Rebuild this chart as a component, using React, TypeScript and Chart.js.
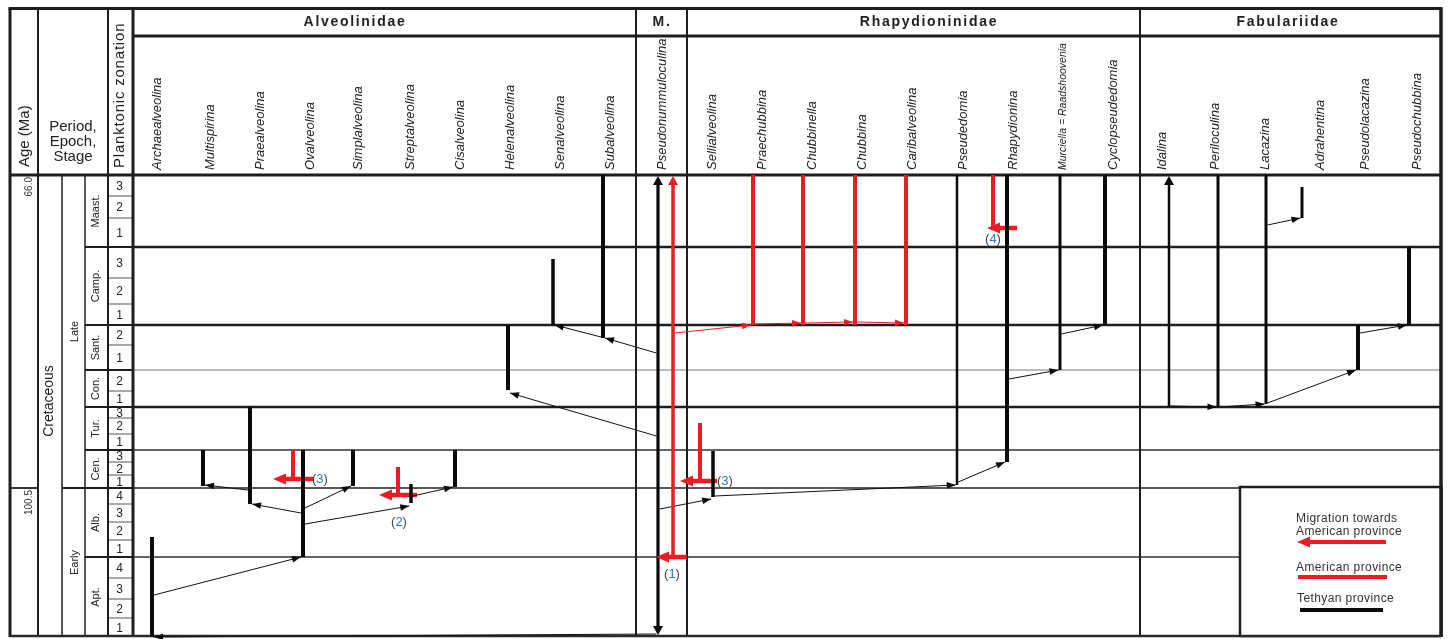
import React, { useEffect, useRef } from 'react';
import { Chart, registerables } from 'chart.js';

Chart.register(...registerables);

// ================= DATA =================
const familyNames = ['Alveolinidae', 'M.', 'Rhapydioninidae', 'Fabulariidae'];

const genusNames = [
  'Archaealveolina', 'Multispirina', 'Praealveolina', 'Ovalveolina', 'Simplalveolina',
  'Streptalveolina', 'Cisalveolina', 'Helenalveolina', 'Senalveolina', 'Subalveolina',
  'Pseudonummuloculina',
  'Sellialveolina', 'Praechubbina', 'Chubbinella', 'Chubbina', 'Caribalveolina',
  'Pseudedomia', 'Rhapydionina', 'Murciella = Raadshoovenia', 'Cyclopseudedomia',
  'Idalina', 'Periloculina', 'Lacazina', 'Adrahentina', 'Pseudolacazina', 'Pseudochubbina',
];

// vertical time axis: position units from the top of the Maastrichtian (66.0 Ma) downwards
const stageNames = ['Maast.', 'Camp.', 'Sant.', 'Con.', 'Tur.', 'Cen.', 'Alb.', 'Apt.'];
const stageTops = [0, 72, 150, 195, 232, 275, 313, 382];
const columnBase = 462;
const subzoneNames = [
  ['3', '2', '1'], ['3', '2', '1'], ['2', '1'], ['2', '1'],
  ['3', '2', '1'], ['3', '2', '1'], ['4', '3', '2', '1'], ['4', '3', '2', '1'],
];
const subzoneTops = [
  [0, 21, 43], [72, 103, 129], [150, 170], [195, 216],
  [232, 243, 259], [275, 287, 300], [313, 329, 347, 365], [382, 403, 424, 443],
];
const epochNames = ['Late', 'Early'];
const epochTops = [0, 313];
const periodNames = ['Cretaceous'];
const periodTops = [0];
const ageLabels = ['66.0', '100.5'];
const ageLevels = [0, 313];

// stratigraphic ranges (T = Tethyan, A = American)
const rangeGenus = [
  'Archaealveolina', 'Multispirina', 'Praealveolina', 'Ovalveolina', 'Simplalveolina',
  'Streptalveolina', 'Cisalveolina', 'Helenalveolina', 'Senalveolina', 'Subalveolina',
  'Pseudonummuloculina', 'Pseudonummuloculina',
  'Sellialveolina', 'Praechubbina', 'Chubbinella', 'Chubbina', 'Caribalveolina',
  'Pseudedomia', 'Rhapydionina', 'Murciella = Raadshoovenia', 'Cyclopseudedomia',
  'Idalina', 'Periloculina', 'Lacazina', 'Adrahentina', 'Pseudolacazina', 'Pseudochubbina',
];
const rangeProvince = [
  'T', 'T', 'T', 'T', 'T', 'T', 'T', 'T', 'T', 'T',
  'T', 'A',
  'T', 'A', 'A', 'A', 'A', 'T', 'T', 'T', 'T',
  'T', 'T', 'T', 'T', 'T', 'T',
];
const rangeTop = [
  362, 275, 232, 275, 275, 309, 275, 150, 84, 0,
  0, 0,
  276, 0, 0, 0, 0, 0, 0, 0, 0,
  0, 0, 0, 12, 150, 72,
];
const rangeBase = [
  462, 311, 329, 382, 311, 328, 312, 215, 150, 163,
  462, 382,
  322, 150, 150, 150, 150, 310, 287, 195, 150,
  232, 232, 229, 43, 195, 150,
];
const rangeArrowTop = [
  false, false, false, false, false, false, false, false, false, false,
  true, true,
  false, false, false, false, false, false, false, false, false,
  true, false, false, false, false, false,
];
const rangeArrowBase = [
  false, false, false, false, false, false, false, false, false, false,
  true, false,
  false, false, false, false, false, false, false, false, false,
  false, false, false, false, false, false,
];

// phylogenetic links (ancestor -> descendant)
const linkFrom = [
  'Archaealveolina', 'Ovalveolina', 'Praealveolina', 'Ovalveolina', 'Ovalveolina',
  'Streptalveolina', 'Pseudonummuloculina', 'Pseudonummuloculina', 'Subalveolina',
  'Pseudonummuloculina', 'Sellialveolina', 'Pseudedomia', 'Rhapydionina',
  'Murciella = Raadshoovenia', 'Idalina', 'Periloculina', 'Lacazina', 'Lacazina',
  'Pseudolacazina', 'Pseudonummuloculina',
  'Pseudonummuloculina', 'Praechubbina', 'Chubbinella', 'Chubbina',
];
const linkFromLevel = [
  420, 338, 315, 333, 349, 321, 261, 178, 162, 334, 321, 307, 204, 159,
  231, 232, 228, 50, 158, 459,
  158, 149, 148, 147,
];
const linkTo = [
  'Ovalveolina', 'Praealveolina', 'Multispirina', 'Simplalveolina', 'Streptalveolina',
  'Cisalveolina', 'Helenalveolina', 'Subalveolina', 'Senalveolina',
  'Sellialveolina', 'Pseudedomia', 'Rhapydionina', 'Murciella = Raadshoovenia',
  'Cyclopseudedomia', 'Periloculina', 'Lacazina', 'Pseudolacazina', 'Adrahentina',
  'Pseudochubbina', 'Archaealveolina',
  'Praechubbina', 'Chubbinella', 'Chubbina', 'Caribalveolina',
];
const linkToLevel = [
  382, 329, 310, 311, 331, 312, 218, 163, 150, 324, 310, 287, 195, 150,
  232, 229, 195, 43, 150, 462,
  150, 148, 147, 148,
];
const linkProvince = [
  'T', 'T', 'T', 'T', 'T', 'T', 'T', 'T', 'T', 'T', 'T', 'T', 'T', 'T',
  'T', 'T', 'T', 'T', 'T', 'T',
  'A', 'A', 'A', 'A',
];

// migrations towards the American province
const migrationLabels = ['1', '2', '3', '3', '4'];
const migrationTop = [382, 292, 275, 248, 0];
const migrationLevel = [382, 320, 304, 306, 53];

const legendLabels = ['Migration towards', 'American province', 'American province', 'Tethyan province'];

// ================= LAYOUT (positions / styles) =================
const X_MAX = 1431;
const leftColEdges = [0, 28, 52, 75, 98, 123];
const familyEdges = [123, 626, 677, 1130, 1431];
const familyLabelX = [345, 652, 919, 1278];
const genusLabelX = [
  147, 200, 250, 300, 348, 400, 450, 500, 550, 600,
  652,
  702, 752, 802, 852, 902, 953, 1003, 1053, 1103,
  1152, 1205, 1255, 1310, 1355, 1407,
];
const rangeLineX = [
  142, 193, 240, 293, 343, 401, 445, 498, 543, 593,
  648, 663,
  703, 743, 793, 845, 896, 947, 997, 1050, 1095,
  1159, 1208, 1256, 1292, 1348, 1399,
];
const rangeWidth = [
  4, 4, 4, 4, 4, 3.5, 4, 4, 3.5, 4,
  3.2, 3.5,
  3.5, 4, 4, 4, 4, 2.5, 4, 3, 4,
  2.5, 3, 3, 3, 4, 4,
];
const stageLineWidth = [0, 2.4, 2.4, 1.2, 2.4, 1.3, 1.6, 1.3];
const stageLineColor = ['#000', '#1e1e1e', '#1e1e1e', '#7a7a7a', '#1e1e1e', '#333', '#222', '#333'];
const migrationX = [663, 388, 283, 690, 983];
const migrationArrowFrom = [677, 407, 303, 707, 1007];
const migrationArrowTo = [646, 369, 263, 670, 977];
const migrationLabelX = [662, 389, 302, 707, 983];
const migrationLabelY = [399, 347, 304, 306, 64];
const migrationLabelAlign = ['center', 'center', 'left', 'left', 'center'];
const legendBox = [1230, 312, 1431, 462];

const HEADER_TOP = 8.5;
const FAMILY_ROW_BOTTOM = 36;
const FONT = '"Liberation Sans", Arial, Helvetica, sans-serif';
const RED = '#ec1c24';
const BLACK = '#0a0a0a';
const BLUE = '#2a7cc7';
const TEXT = '#222';

function findRange(genus: string, province: string): number {
  let idx = -1;
  for (let i = 0; i < rangeGenus.length; i++) {
    if (rangeGenus[i] === genus) {
      if (rangeProvince[i] === province) return i;
      if (idx < 0) idx = i;
    }
  }
  return idx;
}

function seg(ctx: any, x1: number, y1: number, x2: number, y2: number, w: number, color: string) {
  ctx.save();
  ctx.strokeStyle = color;
  ctx.lineWidth = w;
  ctx.lineCap = 'butt';
  ctx.beginPath();
  ctx.moveTo(x1, y1);
  ctx.lineTo(x2, y2);
  ctx.stroke();
  ctx.restore();
}

function arrowHead(ctx: any, x1: number, y1: number, x2: number, y2: number, len: number, half: number, color: string) {
  const a = Math.atan2(y2 - y1, x2 - x1);
  const c = Math.cos(a), s = Math.sin(a);
  ctx.save();
  ctx.fillStyle = color;
  ctx.beginPath();
  ctx.moveTo(x2, y2);
  ctx.lineTo(x2 - len * c + half * s, y2 - len * s - half * c);
  ctx.lineTo(x2 - len * c - half * s, y2 - len * s + half * c);
  ctx.closePath();
  ctx.fill();
  ctx.restore();
}

function text(ctx: any, s: string, x: number, y: number, font: string, color: string, align = 'center', spacing = '0px') {
  ctx.save();
  ctx.font = font;
  ctx.fillStyle = color;
  ctx.textAlign = align;
  ctx.textBaseline = 'middle';
  ctx.letterSpacing = spacing;
  ctx.fillText(s, x, y);
  ctx.restore();
}

function rtext(ctx: any, s: string, x: number, y: number, font: string, color: string, align = 'center', spacing = '0px') {
  ctx.save();
  ctx.translate(x, y);
  ctx.rotate(-Math.PI / 2);
  ctx.font = font;
  ctx.fillStyle = color;
  ctx.textAlign = align;
  ctx.textBaseline = 'middle';
  ctx.letterSpacing = spacing;
  ctx.fillText(s, 0, 0);
  ctx.restore();
}

function linkGeometry(i: number) {
  const fi = findRange(linkFrom[i], linkProvince[i]);
  const ti = findRange(linkTo[i], linkProvince[i]);
  const fx = rangeLineX[fi];
  const tx = rangeLineX[ti];
  const dir = tx >= fx ? 1 : -1;
  return {
    x1: fx + dir * rangeWidth[fi] / 2,
    y1: linkFromLevel[i],
    x2: tx - dir * rangeWidth[ti] / 2,
    y2: linkToLevel[i],
  };
}

const tablePlugin = {
  id: 'rangeTable',
  beforeDraw(chart: any) {
    const ctx = chart.ctx;
    ctx.save();
    ctx.fillStyle = '#fff';
    ctx.fillRect(0, 0, chart.width, chart.height);
    ctx.restore();
  },
  beforeDatasetsDraw(chart: any) {
    const ctx = chart.ctx;
    const xs = chart.scales.x;
    const ys = chart.scales.y;
    const X = (u: number) => xs.getPixelForValue(u);
    const Y = (u: number) => ys.getPixelForValue(u);
    const bodyTop = Y(0);
    const bodyBottom = Y(columnBase);

    // body horizontal stage lines
    stageTops.forEach((t, i) => {
      if (i === 0) return;
      const right = t > legendBox[1] ? X(legendBox[0]) : X(X_MAX);
      seg(ctx, X(familyEdges[0]), Y(t), right, Y(t), stageLineWidth[i], stageLineColor[i]);
    });

    // left columns: subzone lines
    subzoneTops.forEach((tops) => {
      tops.forEach((t, k) => {
        if (k === 0) return;
        seg(ctx, X(leftColEdges[4]), Y(t), X(leftColEdges[5]), Y(t), 1, '#555');
      });
    });
    // stage lines
    stageTops.forEach((t, i) => {
      if (i === 0) return;
      seg(ctx, X(leftColEdges[3]), Y(t), X(leftColEdges[5]), Y(t), 1.8, '#1e1e1e');
    });
    // epoch / age lines
    epochTops.forEach((t, i) => {
      if (i === 0) return;
      seg(ctx, X(leftColEdges[2]), Y(t), X(leftColEdges[5]), Y(t), 1.8, '#1e1e1e');
    });
    ageLevels.forEach((t, i) => {
      if (i === 0) return;
      seg(ctx, X(leftColEdges[0]), Y(t), X(leftColEdges[1]), Y(t), 1.8, '#1e1e1e');
    });

    // vertical lines
    seg(ctx, X(leftColEdges[1]), HEADER_TOP, X(leftColEdges[1]), bodyBottom, 2, '#1e1e1e');
    seg(ctx, X(leftColEdges[2]), bodyTop, X(leftColEdges[2]), bodyBottom, 1.5, '#1e1e1e');
    seg(ctx, X(leftColEdges[3]), bodyTop, X(leftColEdges[3]), bodyBottom, 1.5, '#1e1e1e');
    seg(ctx, X(leftColEdges[4]), HEADER_TOP, X(leftColEdges[4]), bodyBottom, 2, '#1e1e1e');
    seg(ctx, X(leftColEdges[5]), HEADER_TOP, X(leftColEdges[5]), bodyBottom, 3, '#1e1e1e');
    for (let i = 1; i < familyEdges.length - 1; i++) {
      seg(ctx, X(familyEdges[i]), HEADER_TOP, X(familyEdges[i]), bodyBottom, 2, '#1e1e1e');
    }

    // header rows
    seg(ctx, X(familyEdges[0]), FAMILY_ROW_BOTTOM, X(X_MAX), FAMILY_ROW_BOTTOM, 3, '#1e1e1e');
    seg(ctx, X(0), bodyTop, X(X_MAX), bodyTop, 3, '#1e1e1e');
    // outer frame
    seg(ctx, X(0) - 1.5, HEADER_TOP, X(X_MAX) + 1.5, HEADER_TOP, 3, '#1e1e1e');
    seg(ctx, X(0), HEADER_TOP, X(0), bodyBottom, 3, '#1e1e1e');
    seg(ctx, X(X_MAX), HEADER_TOP, X(X_MAX), bodyBottom, 3.5, '#1e1e1e');
    seg(ctx, X(0), bodyBottom - 1, X(X_MAX), bodyBottom - 1, 2.5, '#2a2a2a');

    // family names
    familyNames.forEach((f, i) => {
      text(ctx, f, X(familyLabelX[i]), 22, `bold 14px ${FONT}`, TEXT, 'center', '1.7px');
    });
    // genus names
    genusNames.forEach((g, i) => {
      const small = g.length > 20;
      rtext(ctx, g, X(genusLabelX[i]), 170, `italic ${small ? 10.5 : 13}px ${FONT}`, TEXT, 'left');
    });

    // left header
    rtext(ctx, 'Age (Ma)', X(14.5), 167, `15px ${FONT}`, TEXT, 'left');
    text(ctx, 'Period,', X(63), 127, `15px ${FONT}`, TEXT, 'center');
    text(ctx, 'Epoch,', X(63), 142, `15px ${FONT}`, TEXT, 'center');
    text(ctx, 'Stage', X(63), 157, `15px ${FONT}`, TEXT, 'center');
    rtext(ctx, 'Planktonic zonation', X(110), 168, `15px ${FONT}`, TEXT, 'left', '0.8px');

    // left column labels
    ageLabels.forEach((a, i) => {
      rtext(ctx, a, X(19), Y(ageLevels[i]) + 2, `10px ${FONT}`, '#333', 'right');
    });
    periodNames.forEach((p, i) => {
      const next = i + 1 < periodTops.length ? periodTops[i + 1] : columnBase;
      rtext(ctx, p, X(39.5), Y((periodTops[i] + next) / 2) - 5, `14px ${FONT}`, TEXT, 'center');
    });
    epochNames.forEach((e, i) => {
      const next = i + 1 < epochTops.length ? epochTops[i + 1] : columnBase;
      rtext(ctx, e, X(64.5), Y((epochTops[i] + next) / 2), `11px ${FONT}`, TEXT, 'center');
    });
    stageNames.forEach((s, i) => {
      const next = i + 1 < stageTops.length ? stageTops[i + 1] : columnBase;
      rtext(ctx, s, X(85.5), Y((stageTops[i] + next) / 2), `11px ${FONT}`, TEXT, 'center');
    });
    subzoneNames.forEach((names, s) => {
      const tops = subzoneTops[s];
      const stageEnd = s + 1 < stageTops.length ? stageTops[s + 1] : columnBase;
      names.forEach((n, k) => {
        const a = tops[k];
        const b = k + 1 < tops.length ? tops[k + 1] : stageEnd;
        text(ctx, n, X(109.5), Y((a + b) / 2) + 1, `12px ${FONT}`, TEXT, 'center');
      });
    });
  },
  afterDatasetsDraw(chart: any) {
    const ctx = chart.ctx;
    const xs = chart.scales.x;
    const ys = chart.scales.y;
    const X = (u: number) => xs.getPixelForValue(u);
    const Y = (u: number) => ys.getPixelForValue(u);

    // range-end arrowheads (range continues beyond the chart)
    rangeGenus.forEach((g, i) => {
      const color = rangeProvince[i] === 'A' ? RED : BLACK;
      const x = X(rangeLineX[i]);
      if (rangeArrowTop[i]) arrowHead(ctx, x, Y(rangeTop[i]) + 12, x, Y(rangeTop[i]) + 1, 9, 5, color);
      if (rangeArrowBase[i]) arrowHead(ctx, x, Y(rangeBase[i]) - 12, x, Y(rangeBase[i]) - 2, 9, 5, color);
    });

    // link arrowheads
    linkFrom.forEach((f, i) => {
      const g = linkGeometry(i);
      const color = linkProvince[i] === 'A' ? RED : BLACK;
      arrowHead(ctx, X(g.x1), Y(g.y1), X(g.x2), Y(g.y2), 9, 3.3, color);
    });

    // migration arrowheads
    migrationLabels.forEach((m, i) => {
      arrowHead(ctx, X(migrationArrowFrom[i]), Y(migrationLevel[i]), X(migrationArrowTo[i]), Y(migrationLevel[i]), 13, 5.5, RED);
    });

    // migration labels: grey brackets + blue number
    migrationLabels.forEach((m, i) => {
      ctx.save();
      ctx.font = `13px ${FONT}`;
      const wl = ctx.measureText('(').width;
      const wm = ctx.measureText(m).width;
      const wr = ctx.measureText(')').width;
      const total = wl + wm + wr;
      let x0 = X(migrationLabelX[i]);
      if (migrationLabelAlign[i] === 'center') x0 -= total / 2;
      const y = Y(migrationLabelY[i]);
      ctx.restore();
      text(ctx, '(', x0, y, `13px ${FONT}`, '#444', 'left');
      text(ctx, m, x0 + wl, y, `13px ${FONT}`, BLUE, 'left');
      text(ctx, ')', x0 + wl + wm, y, `13px ${FONT}`, '#444', 'left');
    });

    // legend box
    const lx0 = X(legendBox[0]), ly0 = Y(legendBox[1]);
    const lx1 = X(legendBox[2]), ly1 = Y(legendBox[3]);
    ctx.save();
    ctx.fillStyle = '#fff';
    ctx.fillRect(lx0, ly0, lx1 - lx0, ly1 - ly0);
    ctx.restore();
    seg(ctx, lx0, ly0, lx1, ly0, 2.5, '#1e1e1e');
    seg(ctx, lx0, ly0 - 1.2, lx0, ly1, 2.5, '#1e1e1e');
    seg(ctx, X(X_MAX), ly0, X(X_MAX), ly1, 3.5, '#1e1e1e');
    seg(ctx, lx0, ly1 - 1, lx1, ly1 - 1, 2.5, '#2a2a2a');

    const tx = X(legendBox[0] + 56);
    const lf = `12px ${FONT}`;
    text(ctx, legendLabels[0], tx, Y(344), lf, '#333', 'left', '0.4px');
    text(ctx, legendLabels[1], tx, Y(357), lf, '#333', 'left', '0.4px');
    seg(ctx, X(legendBox[0] + 146), Y(367), X(legendBox[0] + 64), Y(367), 4, RED);
    arrowHead(ctx, X(legendBox[0] + 146), Y(367), X(legendBox[0] + 57), Y(367), 13, 5.5, RED);
    text(ctx, legendLabels[2], tx, Y(393), lf, '#333', 'left', '0.4px');
    seg(ctx, X(legendBox[0] + 58), Y(402), X(legendBox[0] + 147), Y(402), 4, RED);
    text(ctx, legendLabels[3], X(legendBox[0] + 57), Y(424), lf, '#333', 'left', '0.4px');
    seg(ctx, X(legendBox[0] + 60), Y(435), X(legendBox[0] + 143), Y(435), 4, BLACK);
  },
};

function buildDatasets() {
  const ds: any[] = [];
  // ranges
  rangeGenus.forEach((g, i) => {
    const top = rangeTop[i] + (rangeArrowTop[i] ? 7 : 0);
    const base = rangeBase[i] - (rangeArrowBase[i] ? 7 : 0);
    ds.push({
      label: `${g} (${rangeProvince[i]})`,
      data: [{ x: rangeLineX[i], y: top }, { x: rangeLineX[i], y: base }],
      borderColor: rangeProvince[i] === 'A' ? RED : BLACK,
      borderWidth: rangeWidth[i],
      showLine: true,
      pointRadius: 0,
      borderCapStyle: 'butt',
      clip: false,
    });
  });
  // links
  linkFrom.forEach((f, i) => {
    const g = linkGeometry(i);
    ds.push({
      label: `${f} -> ${linkTo[i]}`,
      data: [{ x: g.x1, y: g.y1 }, { x: g.x2, y: g.y2 }],
      borderColor: linkProvince[i] === 'A' ? RED : '#111',
      borderWidth: linkProvince[i] === 'A' ? 1.2 : 1,
      showLine: true,
      pointRadius: 0,
      clip: false,
    });
  });
  // migrations
  migrationLabels.forEach((m, i) => {
    if (migrationLevel[i] > migrationTop[i]) {
      ds.push({
        label: `migration ${m} range`,
        data: [{ x: migrationX[i], y: migrationTop[i] }, { x: migrationX[i], y: migrationLevel[i] + 2 }],
        borderColor: RED,
        borderWidth: 4,
        showLine: true,
        pointRadius: 0,
        borderCapStyle: 'butt',
        clip: false,
      });
    }
    const dir = migrationArrowTo[i] < migrationArrowFrom[i] ? -1 : 1;
    ds.push({
      label: `migration ${m}`,
      data: [
        { x: migrationArrowFrom[i], y: migrationLevel[i] },
        { x: migrationArrowTo[i] - dir * 10, y: migrationLevel[i] },
      ],
      borderColor: RED,
      borderWidth: 4.5,
      showLine: true,
      pointRadius: 0,
      borderCapStyle: 'butt',
      clip: false,
    });
  });
  return ds;
}

export default function App() {
  const ref = useRef<HTMLCanvasElement | null>(null);
  useEffect(() => {
    if (!ref.current) return;
    const chart = new Chart(ref.current, {
      type: 'scatter',
      data: { datasets: buildDatasets() },
      options: {
        animation: false,
        responsive: false,
        maintainAspectRatio: false,
        devicePixelRatio: 1,
        events: [],
        layout: { padding: { left: 10, right: 8, top: 175, bottom: 2 } },
        scales: {
          x: { type: 'linear', min: 0, max: X_MAX, display: false },
          y: { type: 'linear', min: 0, max: columnBase, reverse: true, display: false },
        },
        plugins: { legend: { display: false }, tooltip: { enabled: false } },
      },
      plugins: [tablePlugin],
    } as any);
    return () => chart.destroy();
  }, []);
  return (
    <div style={{ position: 'fixed', left: 0, top: 0, width: 1449, height: 639, background: '#fff' }}>
      <canvas ref={ref} width={1449} height={639} style={{ display: 'block' }} />
    </div>
  );
}
